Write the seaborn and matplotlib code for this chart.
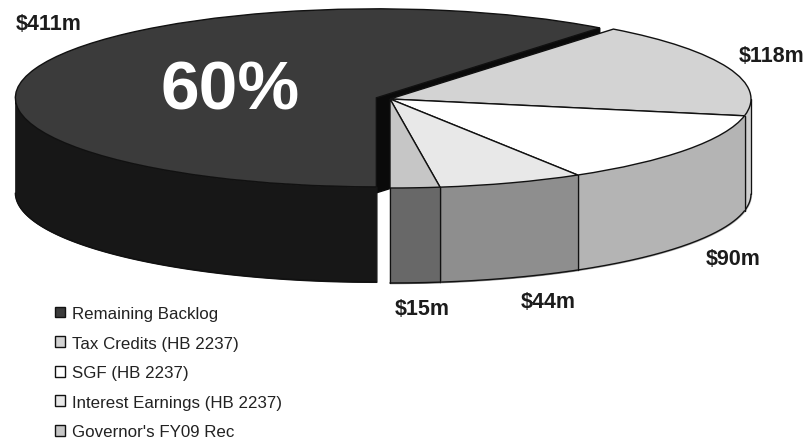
import numpy as np
import matplotlib
matplotlib.use('Agg')
import matplotlib.pyplot as plt
import seaborn as sns

sns.set_theme(style='white')
plt.rcParams['font.family'] = ['Liberation Sans', 'DejaVu Sans']

# data
labels = ['Remaining Backlog', 'Tax Credits (HB 2237)', 'SGF (HB 2237)',
          'Interest Earnings (HB 2237)', "Governor's FY09 Rec"]
values = [411, 118, 90, 44, 15]
value_text = ['$411m', '$118m', '$90m', '$44m', '$15m']
share_text = '60%'

top_colors = ['#3b3b3b', '#d3d3d3', '#ffffff', '#e8e8e8', '#c6c6c6']
wall_colors = ['#171717', '#cfcfcf', '#b4b4b4', '#8e8e8e', '#686868']

W, H = 809, 439
# pie centre and radii in pixels, the squashed axes give the perspective
cx, cy, rx, ry = 390, 100, 361, 89
depth = 95 / ry

fig = plt.figure(figsize=(W / 100, H / 100), dpi=100)
ax = fig.add_axes([0, 0, 1, 1])

wedges, _ = ax.pie(values, startangle=270, counterclock=False, radius=1,
                   explode=[0.04, 0, 0, 0, 0], colors=top_colors,
                   wedgeprops={'edgecolor': '#111111', 'linewidth': 1.0, 'zorder': 4})
ax.set_aspect('auto')
ax.set_xlim(-cx / rx, (W - cx) / rx)
ax.set_ylim((cy - H) / ry, cy / ry)

# side walls, taken from the angles of each wedge
for i, w in enumerate(wedges):
    t = np.radians(np.linspace(w.theta1, w.theta2, 800))
    t = t[np.sin(t) <= 0]
    x = w.center[0] + w.r * np.cos(t)
    y = w.center[1] + w.r * np.sin(t)
    ec = wall_colors[i] if i == 0 else '#111111'
    ax.fill_between(x, y, y - depth, color=wall_colors[i], zorder=3)
    ax.plot(x, y - depth, color='#111111', lw=1.0, zorder=3)
    if i > 0:
        ax.plot([x[0], x[0]], [y[0], y[0] - depth], color=ec, lw=0.9, zorder=3)
        ax.plot([x[-1], x[-1]], [y[-1], y[-1] - depth], color=ec, lw=0.9, zorder=3)

# cut face of the pulled out slice, mostly hidden by the other slices
big = wedges[0]
a = np.radians(big.theta1)
tip_x = big.center[0] + np.cos(a)
tip_y = big.center[1] + np.sin(a)
ax.fill([big.center[0], tip_x, tip_x, big.center[0]],
        [big.center[1], tip_y, tip_y - depth, big.center[1] - depth],
        color='#0a0a0a', zorder=2)


def put(px, py, s, **kw):
    fig.text(px / W, 1 - py / H, s, ha='center', va='center', **kw)


label_pos = [(49, 25), (772, 56), (733, 260), (548, 303), (422, 310)]
for (px, py), s in zip(label_pos, value_text):
    put(px, py, s, fontsize=15.5, fontweight='bold', color='#1c1c1c')
put(230, 92, share_text, fontsize=50, fontweight='bold', color='white', zorder=10)

leg = ax.legend(wedges, labels, loc='upper left', frameon=False,
                bbox_to_anchor=(55 / W, 1 - 307 / H), bbox_transform=fig.transFigure,
                fontsize=12.2, handlelength=0.6, handleheight=0.6, handletextpad=0.4,
                labelspacing=0.86, borderpad=0, borderaxespad=0, labelcolor='#222222')

fig.savefig('out.png', dpi=100)
